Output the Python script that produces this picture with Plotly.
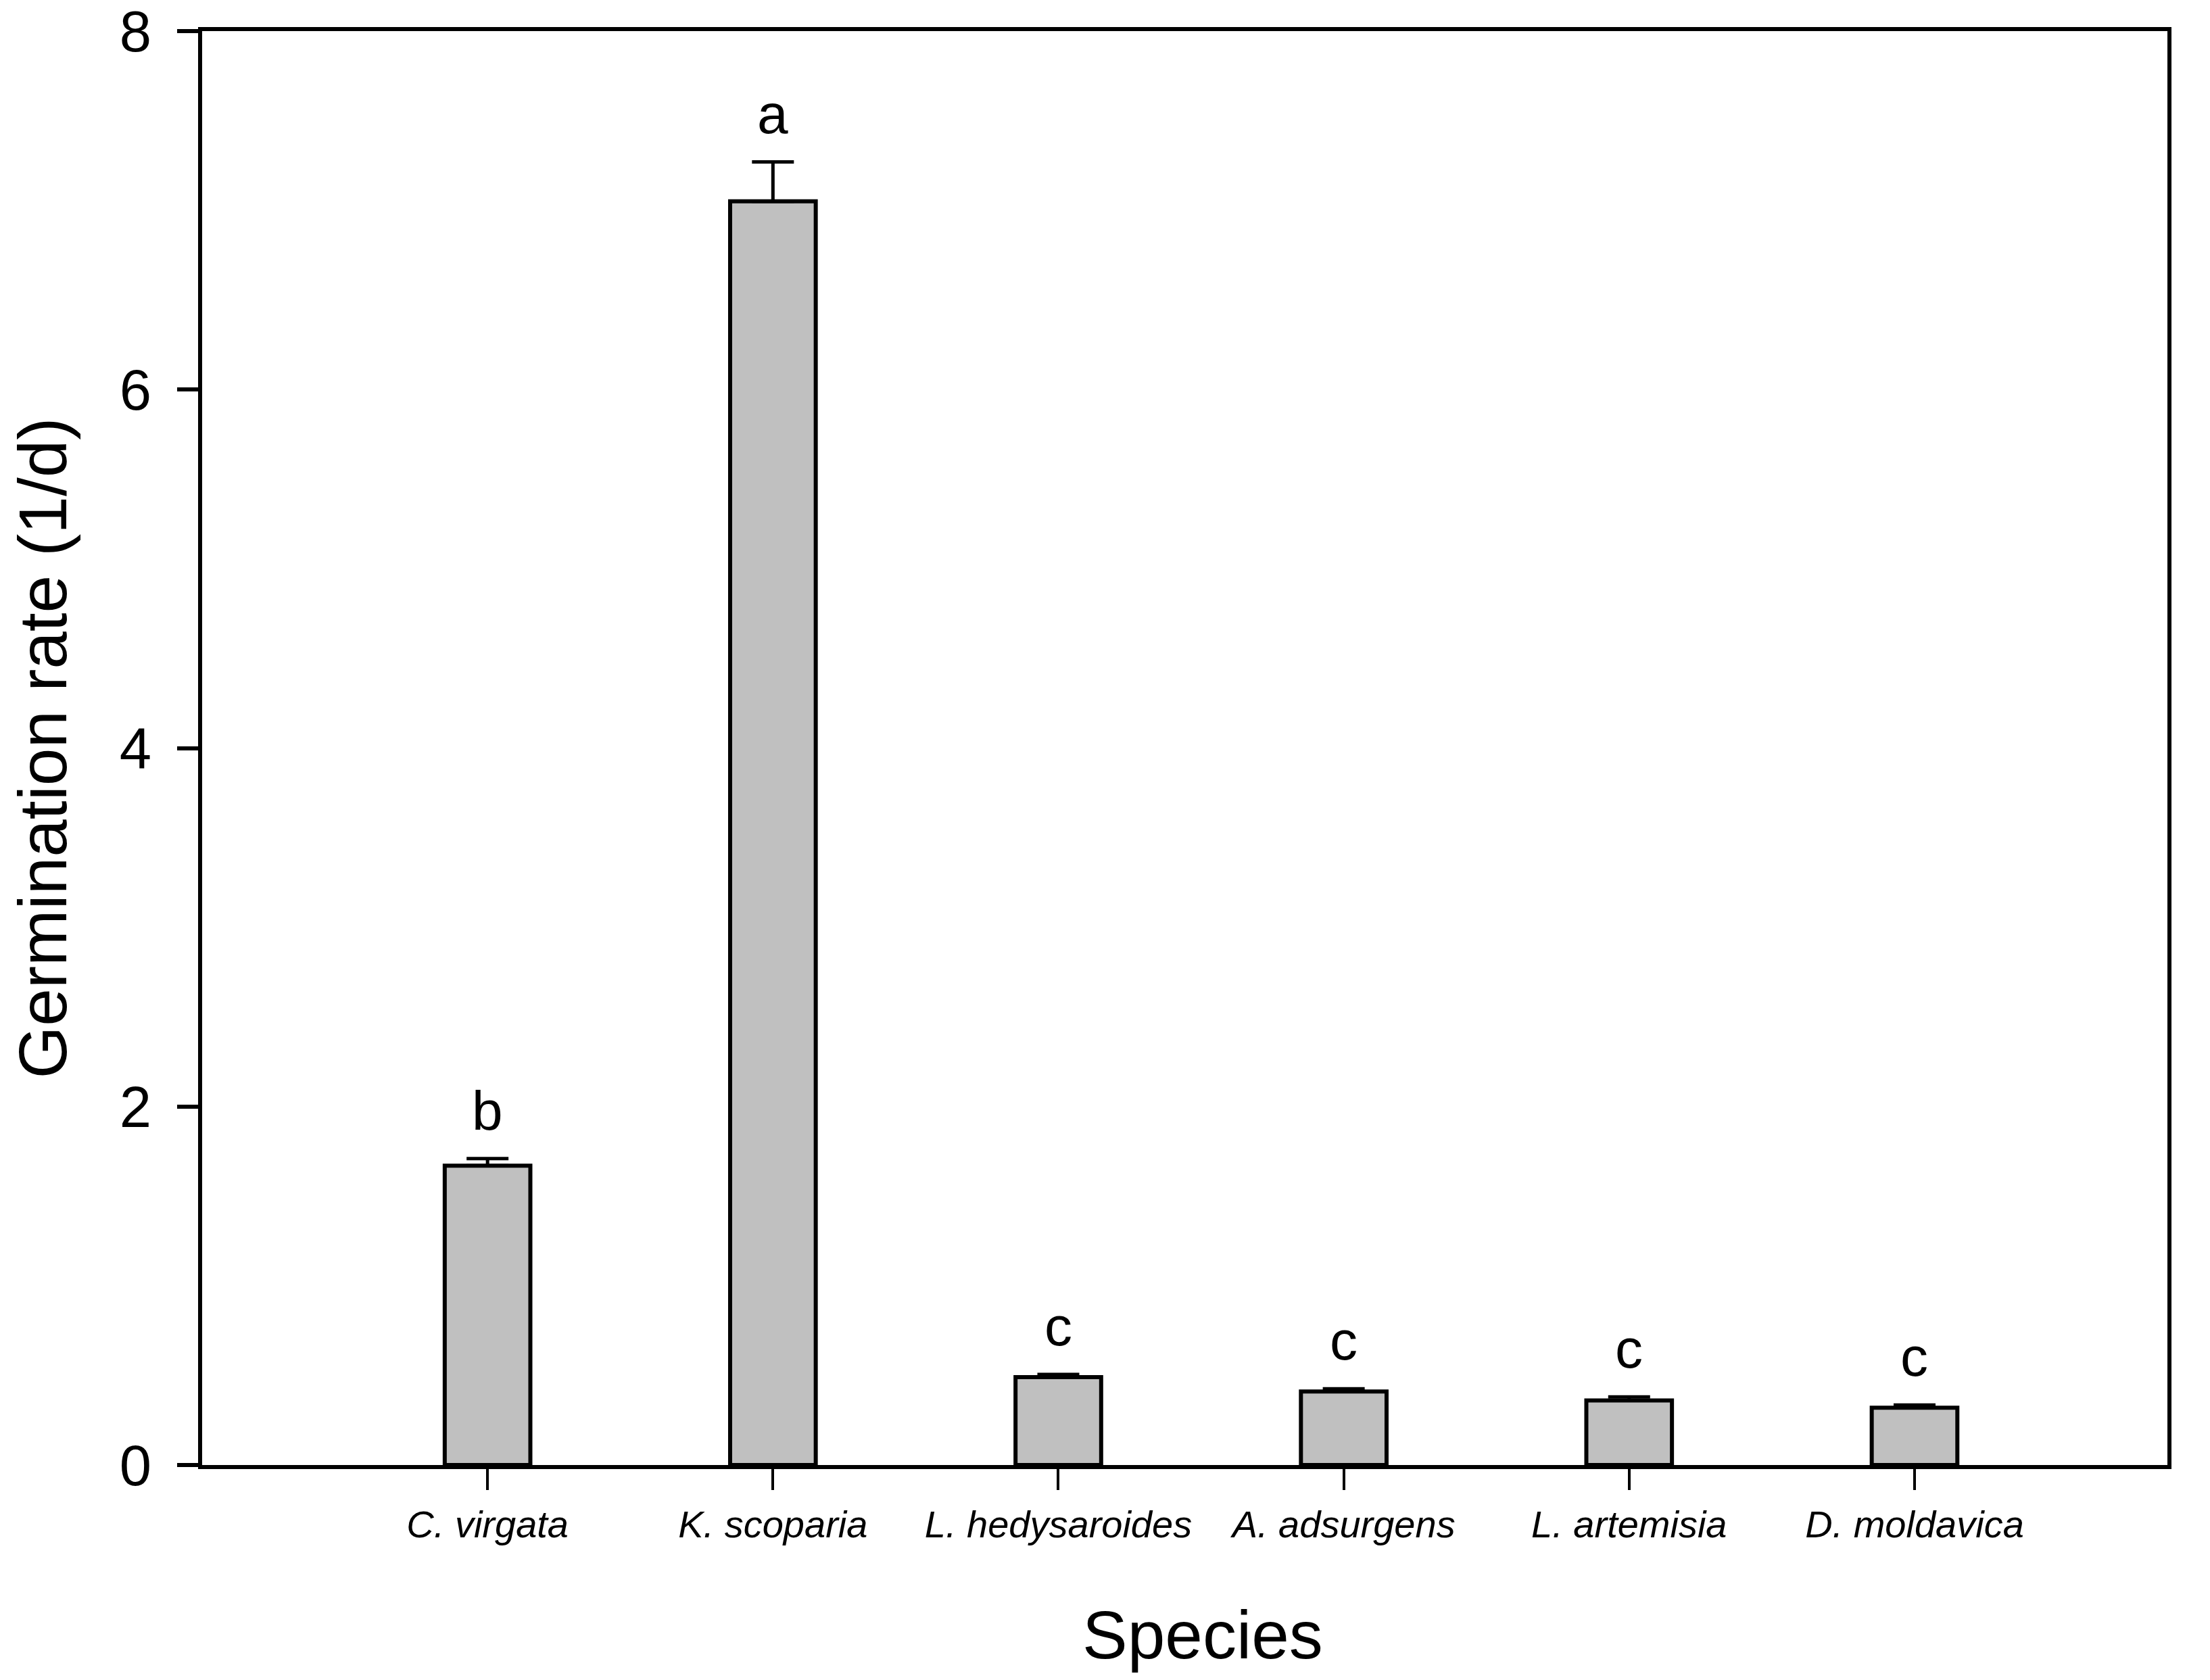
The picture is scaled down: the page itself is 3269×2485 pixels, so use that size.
import plotly.graph_objects as go

species = ["C. virgata", "K. scoparia", "L. hedysaroides", "A. adsurgens", "L. artemisia", "D. moldavica"]
rate = [1.67, 7.05, 0.49, 0.41, 0.36, 0.32]
rate_se = [0.04, 0.22, 0.015, 0.015, 0.02, 0.015]
letters = ["b", "a", "c", "c", "c", "c"]
y_ticks = [0, 2, 4, 6, 8]

FONT = "Liberation Sans, Arial, sans-serif"

fig = go.Figure()

fig.add_trace(go.Bar(
    x=species,
    y=rate,
    width=0.3,
    marker=dict(color="#C0C0C0", line=dict(color="black", width=6)),
    error_y=dict(
        type="data",
        array=rate_se,
        arrayminus=[0] * len(rate_se),
        symmetric=False,
        color="black",
        thickness=5,
        width=31,
    ),
    showlegend=False,
))

# significance letters above the error bars
for sp, val, se, lab in zip(species, rate, rate_se, letters):
    fig.add_annotation(
        x=sp, y=val + se, xref="x", yref="y",
        text=lab, showarrow=False,
        yanchor="bottom", yshift=24,
        font=dict(family=FONT, size=82, color="black"),
    )

# axis titles
fig.add_annotation(
    x=-0.0815, y=0.5, xref="paper", yref="paper",
    text="Germination rate (1/d)", textangle=-90, showarrow=False,
    xanchor="center", yanchor="middle",
    font=dict(family=FONT, size=100, color="black"),
)
fig.add_annotation(
    x=0.509, y=-0.1183, xref="paper", yref="paper",
    text="Species", showarrow=False,
    xanchor="center", yanchor="middle",
    font=dict(family=FONT, size=100, color="black"),
)

# page body adds 8px, so the figure is 16px smaller than the window
fig.update_layout(
    width=3261,
    height=2477,
    margin=dict(l=291, r=63, t=38, b=318),
    paper_bgcolor="white",
    plot_bgcolor="white",
    font=dict(family=FONT, color="black"),
    xaxis=dict(
        type="category",
        range=[-1, 5.886],
        automargin=False,
        showline=True, linecolor="black", linewidth=6, mirror=True,
        ticks="outside", ticklen=31, tickwidth=4, tickcolor="black",
        ticklabelstandoff=3,
        tickfont=dict(family=FONT, size=56, style="italic", color="black"),
        showgrid=False, zeroline=False,
    ),
    yaxis=dict(
        range=[0, 8],
        tickvals=y_ticks,
        automargin=False,
        showline=True, linecolor="black", linewidth=6, mirror=True,
        ticks="outside", ticklen=31, tickwidth=6, tickcolor="black",
        ticklabelstandoff=21,
        ticklabeloverflow="allow",
        tickfont=dict(family=FONT, size=85, color="black"),
        showgrid=False, zeroline=False,
    ),
)

fig.write_html("out.html")
